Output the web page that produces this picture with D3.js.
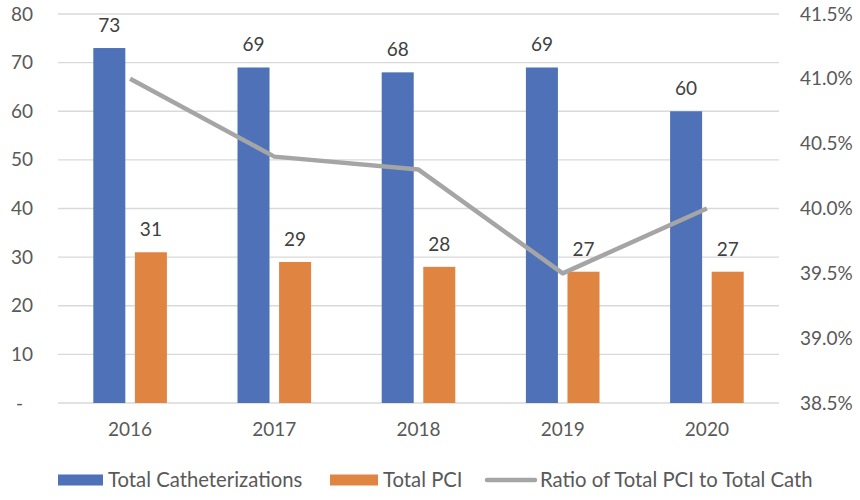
<!DOCTYPE html>
<html>
  <head>
    <meta charset="utf-8">
    <title>Catheterizations and PCI</title>
    <script src="https://d3js.org/d3.v7.min.js"></script>
    <style>
      body { margin: 0; background: #fff; }
      text { font-family: Lato, "Open Sans", sans-serif; }
    </style>
  </head>
  <body>
    <div id="graph"></div>
  </body>

  <script>
    // Chart data
    const years = ["2016", "2017", "2018", "2019", "2020"];
    const total_cath = [73, 69, 68, 69, 60];
    const total_pci = [31, 29, 28, 27, 27];
    const ratio = [41.0, 40.4, 40.3, 39.5, 40.0];
    const left_ticks = [0, 10, 20, 30, 40, 50, 60, 70, 80];
    const right_ticks = [38.5, 39.0, 39.5, 40.0, 40.5, 41.0, 41.5];
    const series_names = ["Total Catheterizations", "Total PCI", "Ratio of Total PCI to Total Cath"];

    const width = 860;
    const height = 500;
    const margin = ({top: 14, right: 81, bottom: 97, left: 58});
    const colors = {cath: "#4e71b8", pci: "#e08442", ratio: "#a5a5a5"};

    let svg = d3.select("#graph").append("svg")
      .attr("width", width)
      .attr("height", height);

    // Scales
    let x = d3.scaleBand()
      .domain(years)
      .range([margin.left, width - margin.right]);
    let x1 = d3.scaleBand()
      .domain(["cath", "pci"])
      .range([-36.8, 36.8])
      .paddingInner(0.23);
    let y = d3.scaleLinear()
      .domain([0, 80])
      .range([height - margin.bottom, margin.top]);
    let y2 = d3.scaleLinear()
      .domain([38.5, 41.5])
      .range([height - margin.bottom, margin.top]);

    // Gridlines
    svg.append("g")
      .selectAll("line")
      .data(left_ticks)
      .join("line")
      .attr("x1", margin.left)
      .attr("x2", width - margin.right)
      .attr("y1", d => y(d))
      .attr("y2", d => y(d))
      .attr("stroke", "#d9d9d9")
      .attr("stroke-width", 1.3);

    // Left axis
    let y_axis = d3.axisLeft(y)
      .tickValues(left_ticks)
      .tickSize(0)
      .tickPadding(25)
      .tickFormat(d => d === 0 ? "-" : d);
    svg.append("g")
      .attr("transform", `translate(${margin.left}, 0)`)
      .call(y_axis)
      .call(g => g.select(".domain").remove())
      .selectAll("text")
      .attr("font-size", 19)
      .attr("font-family", "Lato, sans-serif")
      .attr("fill", "#595959")
      .attr("dx", d => d === 0 ? -10 : 0);

    // Right axis
    let y2_axis = d3.axisRight(y2)
      .tickValues(right_ticks)
      .tickSize(0)
      .tickPadding(21)
      .tickFormat(d => d3.format(".1f")(d) + "%");
    svg.append("g")
      .attr("transform", `translate(${width - margin.right}, 0)`)
      .call(y2_axis)
      .call(g => g.select(".domain").remove())
      .selectAll("text")
      .attr("font-size", 19)
      .attr("font-family", "Lato, sans-serif")
      .attr("fill", "#595959");

    // Bottom axis
    let x_axis = d3.axisBottom(x)
      .tickSize(0)
      .tickPadding(20);
    svg.append("g")
      .attr("transform", `translate(0, ${height - margin.bottom})`)
      .call(x_axis)
      .call(g => g.select(".domain").remove())
      .selectAll("text")
      .attr("font-size", 19)
      .attr("font-family", "Lato, sans-serif")
      .attr("fill", "#595959");

    // Bars
    const bar_data = years.map((yr, i) => ({year: yr, cath: total_cath[i], pci: total_pci[i]}));
    let groups = svg.append("g")
      .selectAll("g")
      .data(bar_data)
      .join("g")
      .attr("transform", d => `translate(${x(d.year) + x.bandwidth() / 2}, 0)`);
    groups.selectAll("rect")
      .data(d => ["cath", "pci"].map(k => ({key: k, value: d[k]})))
      .join("rect")
      .attr("x", d => x1(d.key))
      .attr("width", x1.bandwidth())
      .attr("y", d => y(d.value))
      .attr("height", d => y(0) - y(d.value))
      .attr("fill", d => colors[d.key]);
    groups.selectAll(".value_label")
      .data(d => ["cath", "pci"].map(k => ({key: k, value: d[k]})))
      .join("text")
      .attr("class", "value_label")
      .attr("x", d => x1(d.key) + x1.bandwidth() / 2)
      .attr("y", d => y(d.value) - 16)
      .attr("text-anchor", "middle")
      .attr("font-size", 19)
      .attr("fill", "#404040")
      .text(d => d.value);

    // Ratio line
    let line = d3.line()
      .x((d, i) => x(years[i]) + x.bandwidth() / 2)
      .y(d => y2(d));
    svg.append("path")
      .datum(ratio)
      .attr("d", line)
      .attr("fill", "none")
      .attr("stroke", colors.ratio)
      .attr("stroke-width", 4.5)
      .attr("stroke-linejoin", "round");

    // Legend
    const legend_y = 480;
    const legend_items = [
      {name: series_names[0], key: "cath", sx: 58, tx: 108},
      {name: series_names[1], key: "pci", sx: 330, tx: 383},
      {name: series_names[2], key: "ratio", sx: 485, tx: 540}
    ];
    let legend = svg.append("g");
    legend_items.forEach(item => {
      if (item.key === "ratio") {
        legend.append("line")
          .attr("x1", item.sx + 2)
          .attr("x2", item.tx - 5)
          .attr("y1", legend_y)
          .attr("y2", legend_y)
          .attr("stroke", colors.ratio)
          .attr("stroke-width", 4.5)
          .attr("stroke-linecap", "round");
      } else {
        legend.append("rect")
          .attr("x", item.sx)
          .attr("y", legend_y - 5.5)
          .attr("width", item.tx - item.sx - 5)
          .attr("height", 11)
          .attr("fill", colors[item.key]);
      }
      legend.append("text")
        .attr("x", item.tx)
        .attr("y", legend_y)
        .attr("dy", "0.35em")
        .attr("font-size", 20.3)
        .attr("fill", "#595959")
        .text(item.name);
    });
  </script>
</html>
